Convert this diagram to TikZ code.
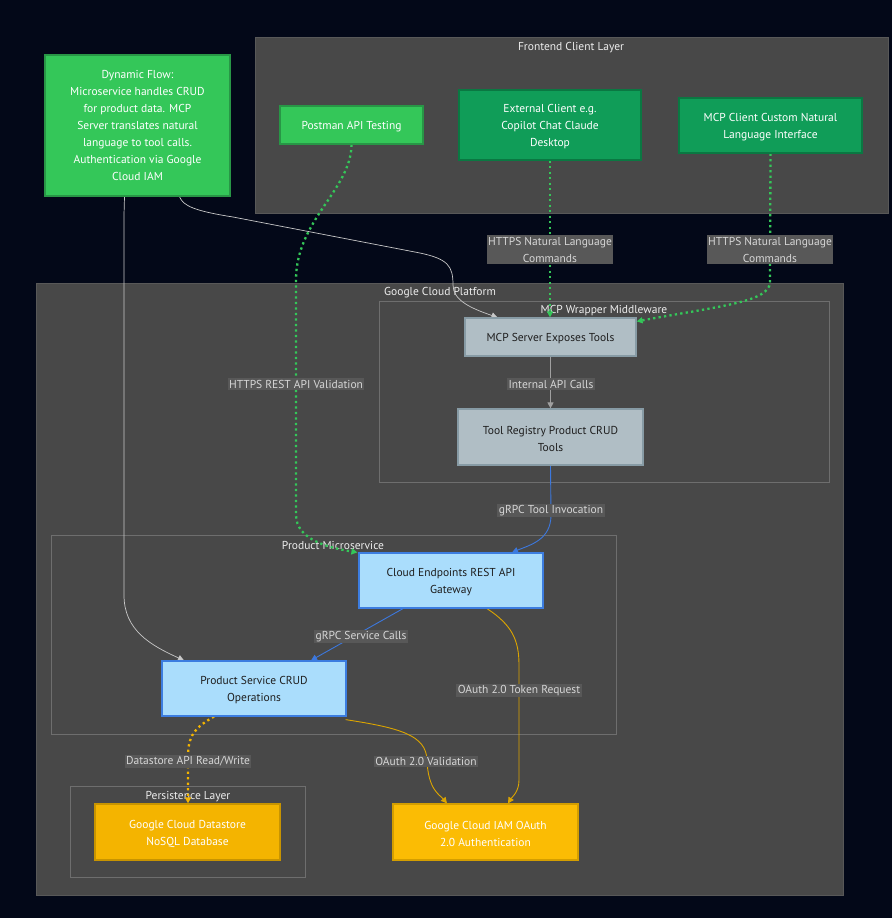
\documentclass[tikz,border=0pt]{standalone}
\usepackage{fontspec}
\setmainfont{PT Sans}
\usetikzlibrary{arrows.meta}
\pgfdeclarelayer{fg}
\pgfsetlayers{main,fg}
\definecolor{bgc}{RGB}{3,8,24}
\definecolor{clfill}{RGB}{72,72,72}
\definecolor{clouter}{RGB}{88,88,88}
\definecolor{clinner}{RGB}{110,110,110}
\definecolor{lgreen}{RGB}{52,199,89}
\definecolor{lgreenb}{RGB}{40,150,70}
\definecolor{dgreen}{RGB}{16,157,88}
\definecolor{dgreenb}{RGB}{10,120,66}
\definecolor{gblue}{RGB}{176,190,197}
\definecolor{gblueb}{RGB}{135,155,165}
\definecolor{lblue}{RGB}{170,221,252}
\definecolor{lblueb}{RGB}{60,125,224}
\definecolor{gold1}{RGB}{244,180,0}
\definecolor{gold1b}{RGB}{200,148,0}
\definecolor{gold2}{RGB}{251,188,4}
\definecolor{gold2b}{RGB}{212,158,0}
\definecolor{lblbg}{RGB}{88,88,88}
\definecolor{lbltx}{RGB}{214,214,214}
\definecolor{ecgrey}{RGB}{200,200,200}
\definecolor{ecmid}{RGB}{160,160,160}
\definecolor{ecblue}{RGB}{60,120,222}
\definecolor{ecgold}{RGB}{220,165,0}
\definecolor{ecgreen}{RGB}{52,199,89}
\definecolor{dtext}{RGB}{30,30,30}
\tikzset{
  txt/.style={font=\fontsize{11.5}{17}\selectfont},
  box/.style={rectangle,inner sep=0pt,line width=1.2pt},
  btext/.style={txt,inner sep=0pt,align=center,yshift=-1.5pt},
  cl/.style={fill=clfill,line width=0.8pt},
  cltitle/.style={txt,text=white!93!black,inner sep=0pt},
  elabel/.style={txt,fill=lblbg,text=lbltx,inner sep=1.5pt,align=center},
  tip/.style={-{Triangle[length=6pt,width=6pt]}},
  solidedge/.style={tip,line width=0.9pt},
  dotedge/.style={tip,line width=2.3pt,dash pattern=on 2.3pt off 3.2pt}
}
\begin{document}
\begin{tikzpicture}[x=1pt,y=-1pt]
\useasboundingbox (0,0) rectangle (892,918);
\fill[bgc] (0,0) rectangle (892,918);
% clusters
\draw[cl,draw=clouter] (255,37) rectangle (888,213);
\node[cltitle] (tfront) at (571,47.5) {Frontend Client Layer};
\draw[cl,draw=clouter] (36,283) rectangle (843,895);
\node[cltitle] (tgcp) at (440,292.5) {Google Cloud Platform};
\draw[cl,draw=clinner] (379,301) rectangle (829,482);
\node[cltitle] (tmcp) at (604,310.5) {MCP Wrapper Middleware};
\draw[cl,draw=clinner] (51,535) rectangle (616,734);
\node[cltitle] (tprod) at (333,545.5) {Product Microservice};
\draw[cl,draw=clinner] (70,786) rectangle (305,877);
\node[cltitle] (tpers) at (188,796.5) {Persistence Layer};
% nodes
\begin{pgfonlayer}{fg}
\node[box,fill=lgreen,draw=lgreenb,minimum width=185pt,minimum height=141pt] (note) at (137.5,125.5) {};
\node[btext,text=white,yshift=1.5pt] (notet) at (note) {Dynamic Flow:\\Microservice handles CRUD\\for product data. MCP\\Server translates natural\\language to tool calls.\\Authentication via Google\\Cloud IAM};
\node[box,fill=lgreen,draw=lgreenb,minimum width=143pt,minimum height=38pt] (postman) at (351.5,125) {};
\node[btext,text=white] (postmant) at (postman) {Postman API Testing};
\node[box,fill=dgreen,draw=dgreenb,minimum width=182pt,minimum height=70pt] (ext) at (550,125) {};
\node[btext,text=white] (extt) at (ext) {External Client e.g.\\Copilot Chat Claude\\Desktop};
\node[box,fill=dgreen,draw=dgreenb,minimum width=183pt,minimum height=55pt] (mcpc) at (770.5,125.5) {};
\node[btext,text=white] (mcpct) at (mcpc) {MCP Client Custom Natural\\Language Interface};
\node[box,fill=gblue,draw=gblueb,minimum width=171pt,minimum height=38pt] (mcps) at (550.5,337) {};
\node[btext,text=dtext] (mcpst) at (mcps) {MCP Server Exposes Tools};
\node[box,fill=gblue,draw=gblueb,minimum width=185pt,minimum height=56pt] (toolr) at (550.5,437) {};
\node[btext,text=dtext] (toolrt) at (toolr) {Tool Registry Product CRUD\\Tools};
\node[box,fill=lblue,draw=lblueb,minimum width=184pt,minimum height=55pt] (cep) at (451,580.5) {};
\node[btext,text=dtext] (cept) at (cep) {Cloud Endpoints REST API\\Gateway};
\node[box,fill=lblue,draw=lblueb,minimum width=184pt,minimum height=55pt] (ps) at (254,688.5) {};
\node[btext,text=dtext] (pst) at (ps) {Product Service CRUD\\Operations};
\node[box,fill=gold1,draw=gold1b,minimum width=185pt,minimum height=56pt] (ds) at (187.5,832) {};
\node[btext,text=white] (dst) at (ds) {Google Cloud Datastore\\NoSQL Database};
\node[box,fill=gold2,draw=gold2b,minimum width=185pt,minimum height=56pt] (iam) at (485.5,832) {};
\node[btext,text=white] (iamt) at (iam) {Google Cloud IAM OAuth\\2.0 Authentication};
\end{pgfonlayer}
% edges
\draw[solidedge,ecgrey,line width=0.7pt] ([xshift=-13pt]note.south) .. controls (124,205) .. (124,215) -- (124,595)
   .. controls (124,630) and (150,645) .. ([xshift=-70pt]ps.north);
\draw[solidedge,ecgrey,line width=0.7pt] ([xshift=42pt]note.south) .. controls (183,206) and (195,211) .. (233,217) -- (420,253)
   .. controls (448,259) and (453,266) .. (453,285) .. controls (453,300) and (470,308) .. ([xshift=-53pt]mcps.north);
\draw[dotedge,ecgreen] (postman.south) .. controls (351,190) and (296,220) .. (296,280) -- (296,515)
   .. controls (296,540) and (330,548) .. ([xshift=-1pt]cep.north west);
\draw[dotedge,ecgreen] (ext.south) -- (mcps.north -| ext.south);
\draw[dotedge,ecgreen] (mcpc.south) -- (770,282) .. controls (770,302) and (720,306) .. ([yshift=-4pt]mcps.north east);
\draw[solidedge,ecmid] (mcps.south) -- (toolr.north);
\draw[solidedge,ecblue] (toolr.south) -- (551,515) .. controls (551,540) and (530,545) .. ([xshift=61pt]cep.north);
\draw[solidedge,ecblue] ([xshift=-48pt]cep.south) -- ([xshift=57pt]ps.north);
\draw[solidedge,ecgold] ([xshift=36pt]cep.south) .. controls (512,625) and (519,640) .. (519,665) -- (519,780)
   .. controls (519,792) and (512,797) .. ([xshift=22.5pt]iam.north);
\draw[dotedge,gold1] ([xshift=-40pt]ps.south) .. controls (190,730) and (188,740) .. (188,760) -- ([xshift=0.5pt]ds.north);
\draw[solidedge,ecgold] ([xshift=-1pt,yshift=-3pt]ps.south east) .. controls (400,728) and (426,735) .. (427,760)
   .. controls (428,790) and (440,795) .. ([xshift=-38.5pt]iam.north);
% edge labels
\node[elabel] (l1) at (550,249.5) {HTTPS Natural Language\\Commands};
\node[elabel] (l2) at (770,249.5) {HTTPS Natural Language\\Commands};
\node[elabel] (l3) at (296,384) {HTTPS REST API Validation};
\node[elabel] (l4) at (551,384) {Internal API Calls};
\node[elabel] (l5) at (551,510.5) {gRPC Tool Invocation};
\node[elabel] (l6) at (361,636.5) {gRPC Service Calls};
\node[elabel] (l7) at (519,690.5) {OAuth 2.0 Token Request};
\node[elabel] (l8) at (188,761.5) {Datastore API Read/Write};
\node[elabel] (l9) at (426,761.5) {OAuth 2.0 Validation};
\end{tikzpicture}
\end{document}
